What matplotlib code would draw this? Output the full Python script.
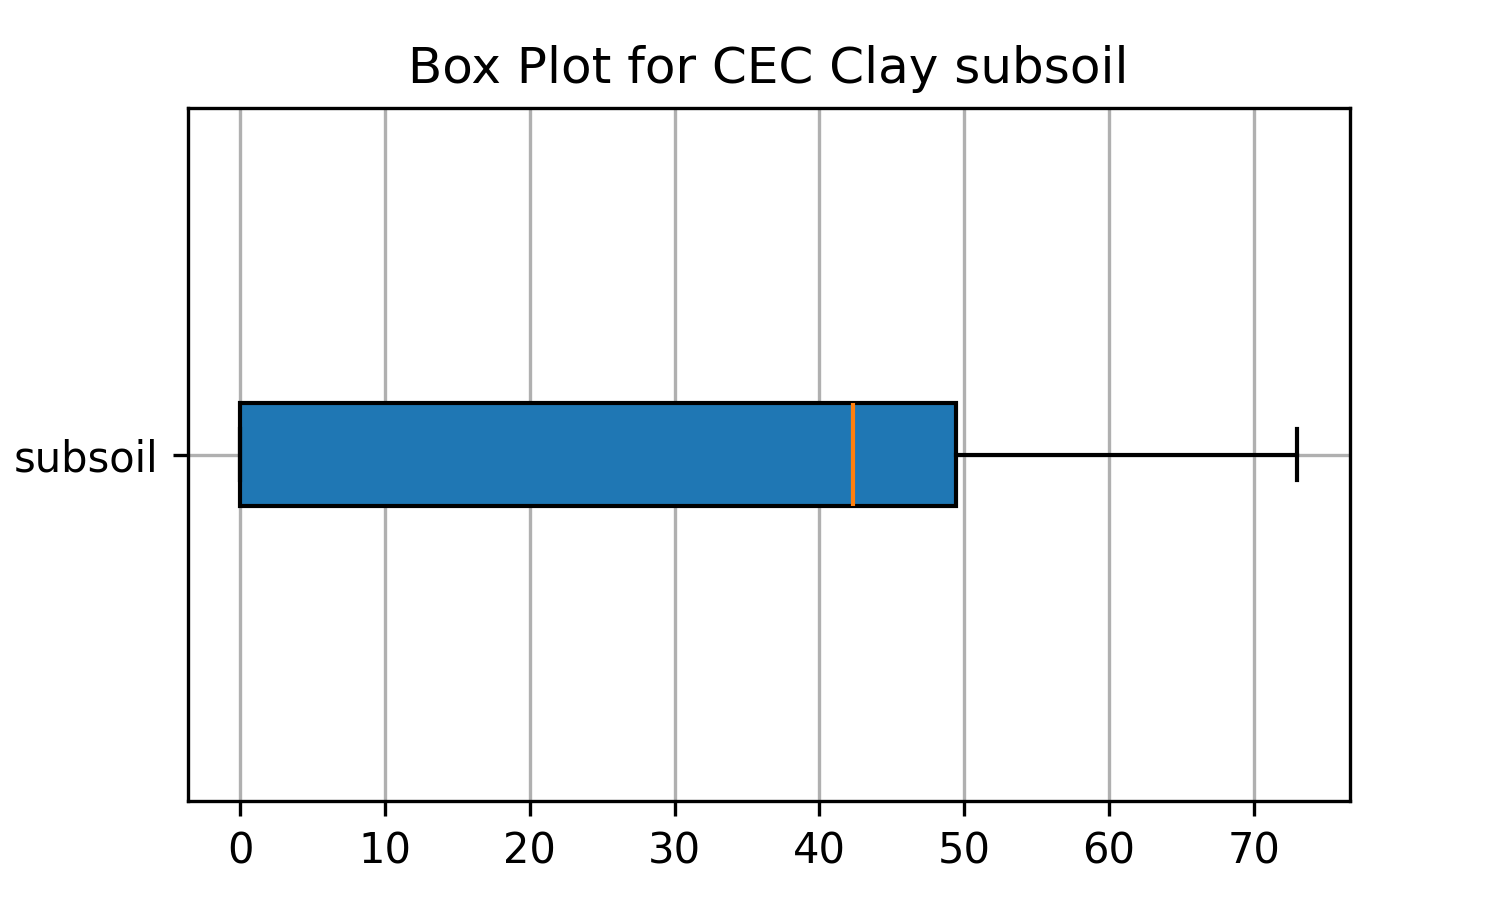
import matplotlib
matplotlib.use("Agg")
import matplotlib.pyplot as plt

labels = ["subsoil"]
whislo = [0.0]
q1 = [0.0]
med = [42.3]
q3 = [49.4]
whishi = [73.0]

stats = [
    {"label": labels[i], "whislo": whislo[i], "q1": q1[i], "med": med[i],
     "q3": q3[i], "whishi": whishi[i], "fliers": []}
    for i in range(len(labels))
]

fig, ax = plt.subplots(figsize=(5, 3), dpi=300)
ax.bxp(stats, vert=False, patch_artist=True, showfliers=False,
       boxprops=dict(facecolor="#1f77b4", edgecolor="black", linewidth=1.0),
       medianprops=dict(color="#ff7f0e"))
ax.set_title("Box Plot for CEC Clay subsoil")
ax.grid(True)
ax.set_axisbelow(True)
fig.savefig("out.png")
